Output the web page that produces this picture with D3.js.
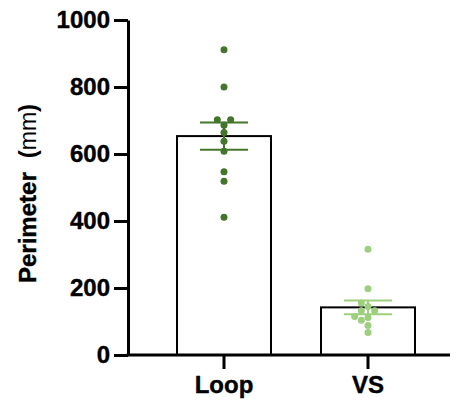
<!DOCTYPE html>
<html lang="en">

<head>
    <meta charset="UTF-8">
    <title>Perimeter – Loop vs VS</title>
    <script src="https://d3js.org/d3.v7.min.js"></script>
    <style>
        body { margin: 0; background: #fff; }
        text { font-family: "Liberation Sans", Arial, sans-serif; font-weight: bold; }
        .heavy { stroke: #000; stroke-width: 0.4px; }
    </style>
</head>

<body>
    <script>
        // values
        const groups = ["Loop", "VS"];
        const loopValues = [911, 800, 702, 702, 686, 664, 638, 608, 547, 519, 411];
        const vsValues = [316, 198, 155, 145, 132, 132, 115, 112, 104, 88, 67];
        const yTicks = [0, 200, 400, 600, 800, 1000];
        const colors = ["#43752a", "#9dcf7e"];

        const width = 457;
        const height = 403;
        const r = 3.5;

        const svg = d3.select("body").append("svg")
            .attr("width", width)
            .attr("height", height);

        const y = d3.scaleLinear().domain([0, 1000]).range([355, 20]);
        const x = d3.scaleBand().domain(groups).range([152, 440]).padding(0);

        const series = [loopValues, vsValues].map((vals, i) => {
            const mean = d3.mean(vals);
            const sem = d3.deviation(vals) / Math.sqrt(vals.length);
            return { name: groups[i], vals, mean, sem, color: colors[i] };
        });

        // simple grid dodge so the dots don't sit on each other
        function swarm(vals) {
            const step = 6.67;
            const placed = [];
            vals.slice().sort((a, b) => a - b).forEach(v => {
                const py = y(v);
                for (let k = 0; k < 20; k++) {
                    const off = k === 0 ? 0 : (k % 2 ? -1 : 1) * Math.ceil(k / 2) * step;
                    const hit = placed.some(p => (p.dx - off) ** 2 + (p.py - py) ** 2 < (2 * r) ** 2);
                    if (!hit) { placed.push({ v, py, dx: off }); break; }
                }
            });
            return placed;
        }

        const barW = 94;
        const g = svg.append("g");

        // bars
        g.selectAll("rect.bar")
            .data(series)
            .enter().append("rect")
            .attr("class", "bar")
            .attr("x", d => x(d.name) + x.bandwidth() / 2 - barW / 2)
            .attr("y", d => y(d.mean))
            .attr("width", barW)
            .attr("height", d => y(0) - y(d.mean))
            .attr("fill", "#fff")
            .attr("stroke", "#000")
            .attr("stroke-width", 2);

        // dots
        series.forEach(s => {
            const cx = x(s.name) + x.bandwidth() / 2;
            g.selectAll(null)
                .data(swarm(s.vals))
                .enter().append("circle")
                .attr("cx", d => cx + d.dx)
                .attr("cy", d => d.py)
                .attr("r", r)
                .attr("fill", s.color);
        });

        // mean ± SEM
        const capW = 24;
        series.forEach(s => {
            const cx = x(s.name) + x.bandwidth() / 2;
            const eg = g.append("g").attr("stroke", s.color).attr("stroke-width", 2);
            eg.append("line")
                .attr("x1", cx).attr("x2", cx)
                .attr("y1", y(s.mean + s.sem)).attr("y2", y(s.mean - s.sem));
            [s.mean + s.sem, s.mean - s.sem].forEach(v => {
                eg.append("line")
                    .attr("x1", cx - capW).attr("x2", cx + capW)
                    .attr("y1", y(v)).attr("y2", y(v));
            });
        });

        // y axis
        const yAxis = svg.append("g")
            .attr("transform", "translate(128,0)")
            .call(d3.axisLeft(y).tickValues(yTicks).tickFormat(d3.format("d"))
                .tickSize(14).tickSizeOuter(0).tickPadding(4));
        yAxis.selectAll("line, path").attr("stroke", "#000").attr("stroke-width", 3);
        yAxis.selectAll("text").attr("font-size", 24).attr("fill", "#000").attr("class", "heavy");

        // x axis
        const xAxis = svg.append("g")
            .attr("transform", "translate(0,355)");
        xAxis.append("line")
            .attr("x1", 126.5).attr("x2", 450)
            .attr("stroke", "#000").attr("stroke-width", 3);
        xAxis.call(d3.axisBottom(x).tickSize(14).tickSizeOuter(0).tickPadding(7))
            .select("path.domain").remove();
        xAxis.selectAll("line").attr("stroke", "#000").attr("stroke-width", 3);
        xAxis.selectAll("text").attr("font-size", 24).attr("fill", "#000").attr("class", "heavy");

        // y title
        const title = svg.append("text")
            .attr("transform", "translate(36,283) rotate(-90)")
            .attr("text-anchor", "start")
            .attr("font-size", 24)
            .attr("fill", "#000");
        title.append("tspan").attr("class", "heavy").text("Perimeter");
        title.append("tspan").attr("dx", 14).text("(");
        title.append("tspan").attr("font-weight", "normal").attr("font-size", 23).text("mm");
        title.append("tspan").text(")");
    </script>
</body>

</html>
